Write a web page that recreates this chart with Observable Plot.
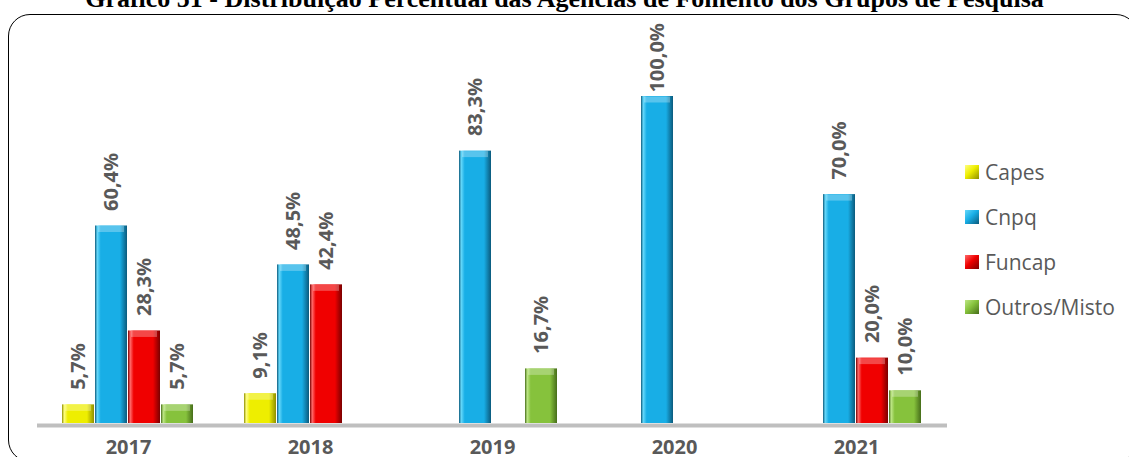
<!DOCTYPE html>
<html>
<head>
<meta charset="utf-8">
<script src="https://cdn.jsdelivr.net/npm/d3@7"></script>
<script src="https://cdn.jsdelivr.net/npm/@observablehq/plot@0.6"></script>
<style>
  body { margin: 0; background: #fff; }
  #wrap { position: relative; width: 1129px; height: 457px; overflow: hidden; background: #fff; }
  #title { position: absolute; left: 0; top: -16px; width: 1129px; text-align: center; font: bold 26px/30px "Liberation Serif", serif; color: #000; white-space: nowrap; }
  #frame { position: absolute; left: 8px; top: 14px; width: 1130px; height: 448px; border: 1.5px solid #000; border-radius: 22px; box-sizing: border-box; }
  #chart { position: absolute; left: 0; top: 0; }
  #legend { position: absolute; left: 965px; top: 149px; font: 21px "Open Sans", sans-serif; color: #595959; }
  .item { display: flex; align-items: center; height: 45px; }
  .sw { width: 14px; height: 14px; margin-right: 6px; flex: none; }
</style>
</head>
<body>
<div id="wrap">
  <div id="title">Gráfico 51 - Distribuição Percentual das Agências de Fomento dos Grupos de Pesquisa</div>
  <div id="frame"></div>
  <div id="chart"></div>
  <div id="legend"></div>
</div>
<script>
// ---- data ----
const years = ["2017", "2018", "2019", "2020", "2021"];
const series = ["Capes", "Cnpq", "Funcap", "Outros/Misto"];
const capes  = [5.7, 9.1, 0, 0, 0];
const cnpq   = [60.4, 48.5, 83.3, 100.0, 70.0];
const funcap = [28.3, 42.4, 0, 0, 20.0];
const outros = [5.7, 0, 16.7, 0, 10.0];

// ---- styles ----
const palette = {
  "Capes":        {dark: "#8f8f00", main: "#eeee00", light: "#ffff80"},
  "Cnpq":         {dark: "#0b5a7c", main: "#18aee6", light: "#66d8fa"},
  "Funcap":       {dark: "#7a0000", main: "#f00000", light: "#ff6a6a"},
  "Outros/Misto": {dark: "#466d1a", main: "#86c23c", light: "#bde685"}
};
const gid = s => "grad-" + series.indexOf(s);

const valuesBySeries = [capes, cnpq, funcap, outros];
const data = [];
years.forEach((y, i) => {
  series.forEach((s, j) => {
    const v = valuesBySeries[j][i];
    if (v > 0) data.push({year: y, series: s, value: v});
  });
});
const fmt = v => v.toFixed(1).replace(".", ",") + "%";

const chart = Plot.plot({
  width: 1129,
  height: 457,
  marginLeft: 37,
  marginRight: 182,
  marginTop: 96,
  marginBottom: 34,
  style: {background: "transparent", fontFamily: "Open Sans", overflow: "visible"},
  fx: {domain: years, padding: 0, label: null},
  x: {domain: series, paddingInner: 0.03, paddingOuter: 0.7725, axis: null},
  y: {domain: [0, 100], axis: null},
  color: {type: "ordinal", domain: series, range: series.map(s => `url(#${gid(s)})`)},
  marks: [
    Plot.barY(data, {fx: "year", x: "series", y: "value", fill: "series"}),
    Plot.tickY(data, {fx: "year", x: "series", y: "value", stroke: "#ffffff", strokeOpacity: 0.28, strokeWidth: 6, dy: 3, inset: 3}),
    Plot.ruleY([0], {stroke: "#bfbfbf", strokeWidth: 4, dy: 2}),
    Plot.text(data, {
      fx: "year", x: "series",
      y: d => Math.min(d.value, 96.6),
      text: d => fmt(d.value),
      rotate: -90, textAnchor: "start", lineAnchor: "middle", dy: -15,
      fontSize: 20, fontWeight: "bold", fill: "#595959", fontFamily: "Open Sans"
    }),
    Plot.axisFx({anchor: "bottom", tickSize: 0, tickPadding: 16, fontSize: 20, fontWeight: "bold", fill: "#595959", label: null})
  ]
});

// gradients for the bevelled bars
const ns = "http://www.w3.org/2000/svg";
const defs = document.createElementNS(ns, "defs");
function addGrad(id, stops) {
  const g = document.createElementNS(ns, "linearGradient");
  g.setAttribute("id", id);
  g.setAttribute("x1", "0"); g.setAttribute("x2", "1");
  g.setAttribute("y1", "0"); g.setAttribute("y2", "0");
  stops.forEach(([o, c]) => {
    const st = document.createElementNS(ns, "stop");
    st.setAttribute("offset", o);
    st.setAttribute("stop-color", c);
    g.appendChild(st);
  });
  defs.appendChild(g);
}
series.forEach(s => {
  const p = palette[s];
  addGrad(gid(s), [[0, p.dark], [0.07, p.light], [0.18, p.main], [0.5, p.main], [0.78, p.main], [1, p.dark]]);
});
chart.insertBefore(defs, chart.firstChild);
document.getElementById("chart").appendChild(chart);

// legend
const legend = document.getElementById("legend");
series.forEach(s => {
  const p = palette[s];
  const item = document.createElement("div");
  item.className = "item";
  const sw = document.createElement("div");
  sw.className = "sw";
  sw.style.background = `linear-gradient(135deg, ${p.light} 0%, ${p.main} 45%, ${p.dark} 100%)`;
  const label = document.createElement("span");
  label.textContent = s;
  item.appendChild(sw);
  item.appendChild(label);
  legend.appendChild(item);
});
</script>
</body>
</html>
